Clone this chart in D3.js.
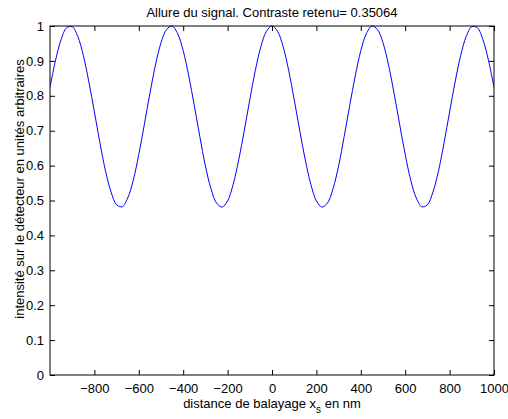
<!DOCTYPE html>
<html>
<head>
<meta charset="utf-8">
<script src="https://cdn.jsdelivr.net/npm/d3@7"></script>
<style>
body{margin:0;background:#fff}
text{font-family:"Liberation Sans",Arial,sans-serif;font-size:13px;fill:#000}
</style>
</head>
<body>
<svg width="508" height="419"></svg>
<script>
// valeurs (pas de 25 nm)
const xs = d3.range(-1000, 1001, 25)
const half = [1.000,0.985,0.941,0.873,0.789,0.700,0.616,0.546,0.499,0.481,
	0.493,0.534,0.599,0.683,0.772,0.857,0.929,0.978,1.000,0.990,
	0.952,0.888,0.807,0.718,0.632,0.558,0.507,0.482,0.488,0.524,
	0.585,0.665,0.754,0.840,0.916,0.970,0.998,0.995,0.961,0.902,0.824]
const intens = half.slice(1).reverse().concat(half)
const xTicks = [-800,-600,-400,-200,0,200,400,600,800,1000]
const yTicks = [0,0.1,0.2,0.3,0.4,0.5,0.6,0.7,0.8,0.9,1]

const L=50, R=494, T=26, B=375
const svg = d3.select("svg")
const x = d3.scaleLinear().domain([-1000,1000]).range([L,R])
const y = d3.scaleLinear().domain([0,1]).range([B,T])

svg.append("clipPath").attr("id","c")
	.append("rect").attr("x",L).attr("y",T-2).attr("width",R-L).attr("height",B-T+4)

svg.append("path")
	.datum(xs.map((v,i)=>[v,intens[i]]))
	.attr("clip-path","url(#c)")
	.attr("fill","none")
	.attr("stroke","#0000ff")
	.attr("stroke-width",1)
	.attr("d", d3.line().x(d=>x(d[0])).y(d=>y(d[1])).curve(d3.curveCatmullRom))

const tk = 5
svg.append("g").attr("transform",`translate(0,${B})`)
	.call(d3.axisBottom(x).tickValues(xTicks).tickSize(-tk).tickPadding(9)
		.tickFormat(d=>d<0?"\u2212"+(-d):d))
svg.append("g").attr("transform",`translate(0,${T})`)
	.call(d3.axisTop(x).tickValues(xTicks).tickSize(-tk).tickFormat(""))
svg.append("g").attr("transform",`translate(${L},0)`)
	.call(d3.axisLeft(y).tickValues(yTicks).tickSize(-tk).tickPadding(6)
		.tickFormat(d=>d))
svg.append("g").attr("transform",`translate(${R},0)`)
	.call(d3.axisRight(y).tickValues(yTicks).tickSize(-tk).tickFormat(""))

svg.selectAll(".domain").remove()
svg.selectAll(".tick line").attr("stroke","#000")
svg.selectAll(".tick text").style("font-size","13px").style("font-family","Liberation Sans, Arial, sans-serif")

svg.append("rect").attr("x",L).attr("y",T).attr("width",R-L).attr("height",B-T)
	.attr("fill","none").attr("stroke","#000").attr("stroke-width",1)

svg.append("text").attr("x",(L+R)/2).attr("y",17).attr("text-anchor","middle")
	.text("Allure du signal. Contraste retenu= 0.35064")

const xl = svg.append("text").attr("x",(L+R)/2).attr("y",408).attr("text-anchor","middle")
xl.append("tspan").text("distance de balayage x")
xl.append("tspan").attr("dy",5).style("font-size","10px").text("s")
xl.append("tspan").attr("dy",-5).text(" en nm")

svg.append("text").attr("transform",`translate(24,189) rotate(-90)`)
	.attr("text-anchor","middle")
	.text("intensité sur le détecteur en unités arbitraires")
</script>
</body>
</html>
